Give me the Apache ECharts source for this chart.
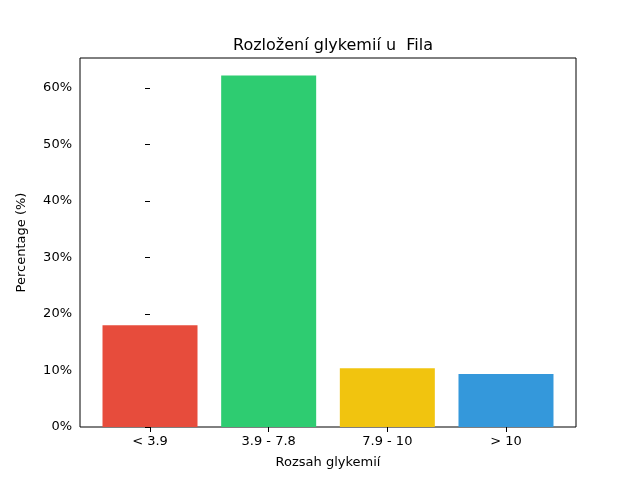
<!DOCTYPE html>
<html><head><meta charset="utf-8">
<script src="https://cdn.jsdelivr.net/npm/echarts@6/dist/echarts.min.js"></script>
<style>html,body{margin:0;padding:0;background:#fff}#c{width:640px;height:480px}</style>
</head><body><div id="c"></div>
<script>
const categories = ["< 3.9", "3.9 - 7.8", "7.9 - 10", "> 10"];
const values = [18.0, 62.2, 10.4, 9.4];
const colors = ["#e74c3c", "#2ecc71", "#f1c40f", "#3498db"];
const yTicks = [0, 10, 20, 30, 40, 50, 60];
const font = "DejaVu Sans";
const chart = echarts.init(document.getElementById('c'));
chart.setOption({
  animation: false,
  title: {text: "Rozložení glykemií u  Fila", left: 328, top: 33, textAlign: 'center',
    textStyle: {fontFamily: font, fontSize: 16, fontWeight: 'normal', color: '#000'}},
  grid: {left: 80, right: 64, top: 58, bottom: 53, show: true, borderColor: '#000', borderWidth: 1, backgroundColor: 'transparent'},
  xAxis: {type: 'value', min: -0.59, max: 3.59,
    name: "Rozsah glykemií", nameLocation: 'middle', nameGap: 29,
    nameTextStyle: {fontFamily: font, fontSize: 13, color: '#000'},
    axisLine: {show: false}, splitLine: {show: false},
    axisTick: {show: true, customValues: [0,1,2,3], length: 5, lineStyle: {color: '#000'}},
    axisLabel: {customValues: [0,1,2,3], formatter: v => categories[Math.round(v)], fontFamily: font, fontSize: 13, color: '#000', margin: 8}},
  yAxis: {type: 'value', min: 0, max: 65.3,
    name: "Percentage (%)", nameLocation: 'middle', nameGap: 52,
    nameTextStyle: {fontFamily: font, fontSize: 13, color: '#000'},
    axisLine: {show: false}, splitLine: {show: false},
    axisTick: {show: true, customValues: yTicks, length: 5, lineStyle: {color: '#000'}},
    axisLabel: {customValues: yTicks, formatter: v => v + '%', fontFamily: font, fontSize: 13, color: '#000', margin: 8}},
  series: [{type: 'bar', barWidth: 95,
    data: values.map((v, i) => ({value: [i, v], itemStyle: {color: colors[i]}}))}]
});
</script></body></html>
